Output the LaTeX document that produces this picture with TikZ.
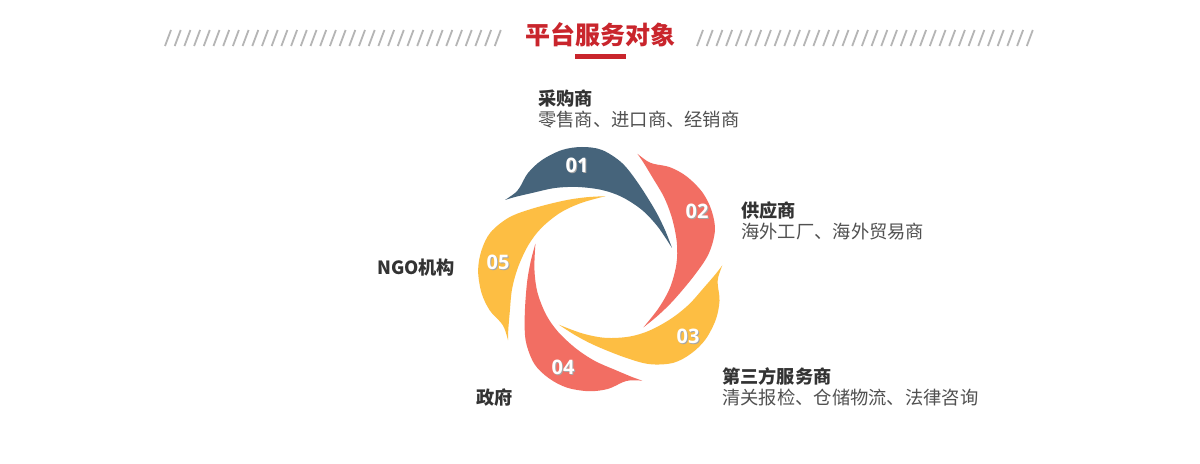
\documentclass[tikz,border=0pt]{standalone}
\usepackage{fontspec}
\setmainfont{Noto Sans CJK SC}
\newfontfamily\numfont{Open Sans}
\definecolor{titlered}{HTML}{C9252C}
\definecolor{cblue}{HTML}{46647B}
\definecolor{csalmon}{HTML}{F26E63}
\definecolor{cyellow}{HTML}{FDBE43}
\definecolor{hatchgray}{HTML}{B5B5B5}
\definecolor{headtext}{HTML}{333333}
\definecolor{subtext}{HTML}{505050}
\begin{document}
\begin{tikzpicture}[x=1bp,y=-1bp,
  hatch/.style={draw=hatchgray,line width=1.8bp},
  headlbl/.style={anchor=west,inner sep=0pt,text=headtext,font=\bfseries\fontsize{18.2bp}{22bp}\selectfont},
  sublbl/.style={anchor=west,inner sep=0pt,text=subtext,font=\fontsize{18.3bp}{22bp}\selectfont},
  numlbl/.style={inner sep=0pt,text=white,font=\numfont\bfseries\fontsize{20bp}{24bp}\selectfont},
  numshadow/.style={inner sep=0pt,text=black!35,font=\numfont\bfseries\fontsize{20bp}{24bp}\selectfont}]
\useasboundingbox (0,0) rectangle (1200,464);
\fill[white] (0,0) rectangle (1200,464);
% hatch bands
\foreach \i in {0,...,34} {
  \draw[hatch] ({165+9.7*\i},46) -- ++(6,-16);
  \draw[hatch] ({697+9.7*\i},46) -- ++(6,-16);
}
% title
\node[font=\bfseries\fontsize{25bp}{30bp}\selectfont,text=titlered,inner sep=0pt] (title) at (600,35) {平台服务对象};
\fill[titlered] (575,54) rectangle (626,59);
% petals
\foreach \k/\c in {0/cblue,1/csalmon,2/cyellow,3/csalmon,4/cyellow} {
  \begin{scope}[shift={(603,268)},rotate=-72*\k]
    \fill[\c] plot[smooth,tension=0.55] coordinates {(-98,-68) (-88,-75) (-83,-81) (-75,-95) (-61,-108) (-41,-118) (-21,-121) (-1,-118) (19,-105) (35,-85) (52,-58) (62,-38) (69,-20)}
      -- plot[smooth,tension=0.55] coordinates {(69,-20) (55,-41) (39,-58) (19,-71) (-1,-78) (-25,-81) (-48,-80) (-71,-75) (-88,-71) (-98,-68)} -- cycle;
  \end{scope}
}
% numbers
\foreach \n/\x/\y in {01/577/165,02/697/211,03/688/336,04/563/367,05/498/262} {
  \node[numshadow] at (\x+1,\y+1) {\n};
  \node[numlbl] (n\n) at (\x,\y) {\n};
}
% labels
\node[headlbl] (h1) at (538,99) {采购商};
\node[sublbl] (s1) at (538,120) {零售商、进口商、经销商};
\node[headlbl] (h2) at (741,211) {供应商};
\node[sublbl] (s2) at (741,232) {海外工厂、海外贸易商};
\node[headlbl] (h3) at (722,376) {第三方服务商};
\node[sublbl] (s3) at (722,398) {清关报检、仓储物流、法律咨询};
\node[headlbl] (h4) at (476,398) {政府};
\node[headlbl] (h5) at (377,268) {NGO机构};
\end{tikzpicture}
\end{document}
